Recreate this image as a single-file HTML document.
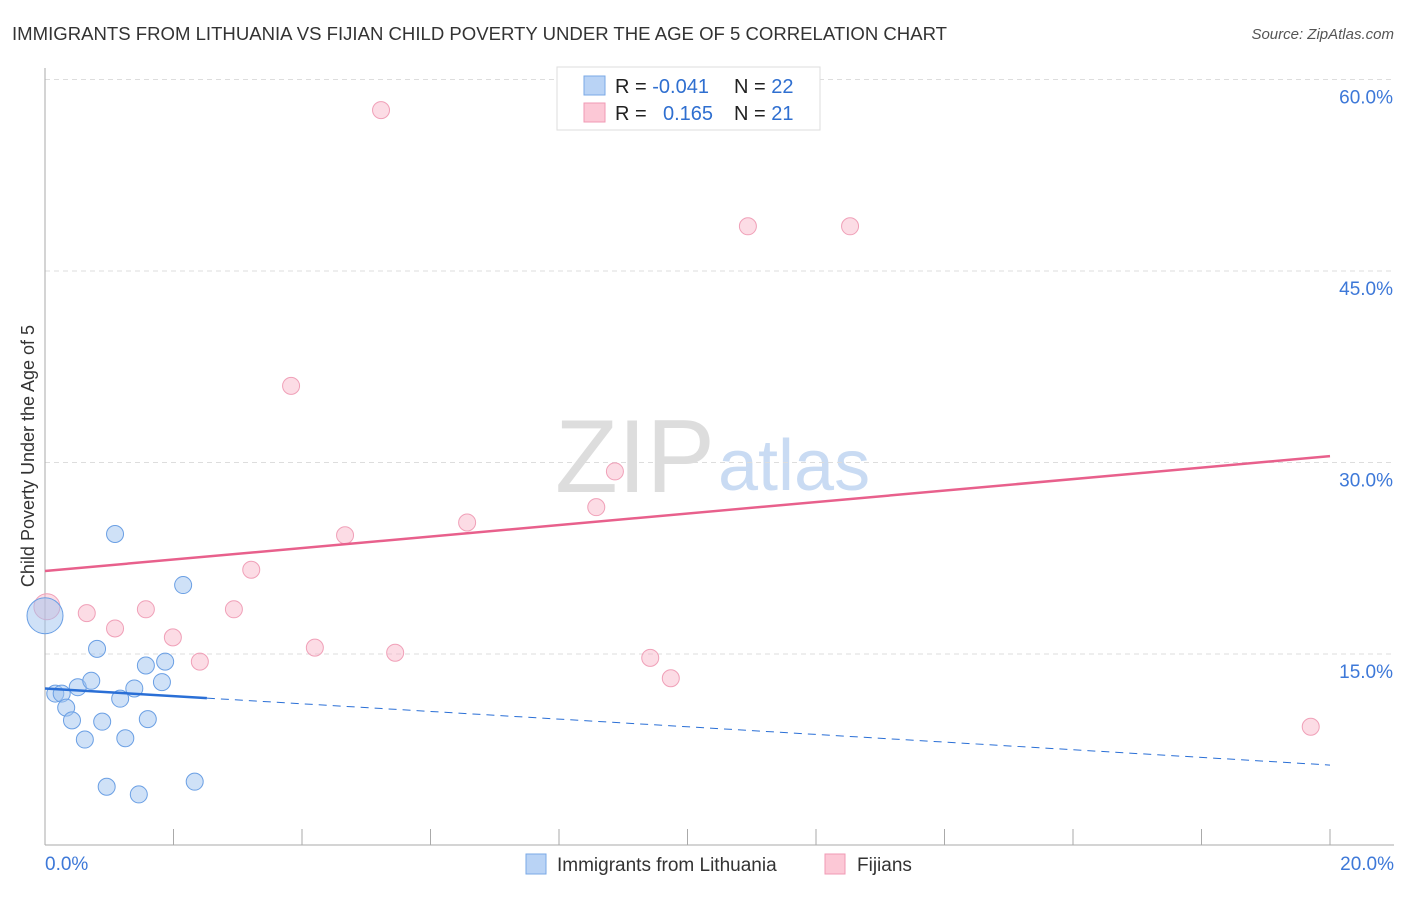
<!DOCTYPE html>
<html><head><meta charset="utf-8"><style>
body{margin:0;background:#fff;font-family:"Liberation Sans",sans-serif}
svg text{font-family:"Liberation Sans",sans-serif}
</style></head><body>
<svg id="c" width="1406" height="892" xmlns="http://www.w3.org/2000/svg">
<text x="12" y="40" font-size="18" fill="#333" textLength="935" lengthAdjust="spacingAndGlyphs">IMMIGRANTS FROM LITHUANIA VS FIJIAN CHILD POVERTY UNDER THE AGE OF 5 CORRELATION CHART</text>
<text x="1394" y="39" font-size="15" fill="#555" font-style="italic" text-anchor="end">Source: ZipAtlas.com</text>
<text x="555" y="492" font-size="104" fill="#ddd" font-family="Liberation Serif" textLength="160" lengthAdjust="spacingAndGlyphs">ZIP</text>
<text x="718" y="490" font-size="72" fill="#c9dbf3">atlas</text>
<text transform="translate(34,456) rotate(-90)" font-size="18" fill="#333" text-anchor="middle">Child Poverty Under the Age of 5</text>
<g id="grid"></g><g id="marks"></g>
<g>
<rect x="557" y="67" width="263" height="63" fill="#fff" stroke="#ddd"/>
<rect x="584" y="76" width="21" height="19" fill="#b9d3f5" stroke="#7aa8e6"/>
<rect x="584" y="103" width="21" height="19" fill="#fcc8d6" stroke="#f09ab4"/>
<text x="615" y="93" font-size="20" fill="#222">R = <tspan fill="#2f6fd0">-0.041</tspan></text>
<text x="734" y="93" font-size="20" fill="#222">N = <tspan fill="#2f6fd0">22</tspan></text>
<text x="615" y="120" font-size="20" fill="#222">R = </text><text x="663" y="120" font-size="20" fill="#2f6fd0">0.165</text>
<text x="734" y="120" font-size="20" fill="#222">N = <tspan fill="#2f6fd0"> 21</tspan></text>
</g>
<g>
<rect x="526" y="854" width="20" height="20" fill="#b9d3f5" stroke="#7aa8e6"/>
<text x="557" y="871" font-size="19" fill="#333">Immigrants from Lithuania</text>
<rect x="825" y="854" width="20" height="20" fill="#fcc8d6" stroke="#f09ab4"/>
<text x="857" y="871" font-size="19" fill="#333">Fijians</text>
</g>
</svg>
<script>
const blueX=[1.09,2.15,0,0.81,1.57,1.87,0.16,0.26,0.51,0.72,1.39,1.17,1.82,0.33,0.42,0.89,1.60,0.62,1.25,0.96,1.46,2.33];
const blueY=[24.4,20.4,18.0,15.4,14.1,14.4,11.9,11.9,12.4,12.9,12.3,11.5,12.8,10.8,9.8,9.7,9.9,8.3,8.4,4.6,4.0,5.0];
const pinkX=[5.23,10.94,12.53,3.83,8.87,6.57,8.58,4.67,3.21,0.03,0.65,1.57,2.94,1.09,1.99,2.41,4.20,5.45,9.42,9.74,19.70];
const pinkY=[57.6,48.5,48.5,36.0,29.3,25.3,26.5,24.3,21.6,18.7,18.2,18.5,18.5,17.0,16.3,14.4,15.5,15.1,14.7,13.1,9.3];
const blueTrend=[12.3,-0.30];
const pinkTrend=[21.5,0.45];
const yTicks=[15,30,45,60];
const xTicks=[0,2,4,6,8,10,12,14,16,18,20];
const NS="http://www.w3.org/2000/svg";
const sx=v=>45+v*64.25, sy=v=>845.5-v*12.767;
function mk(t,a,p){const e=document.createElementNS(NS,t);for(const k in a)e.setAttribute(k,a[k]);p.appendChild(e);return e;}
const g=document.getElementById('grid'), m=document.getElementById('marks');
yTicks.forEach(v=>{
 const l=mk('line',{x1:45,x2:1394,y1:sy(v),y2:sy(v),stroke:'#ddd','stroke-dasharray':'5,4'},g);
 
 
 const t=mk('text',{x:1393,y:sy(v)+24,'font-size':19,fill:'#3d78d8','text-anchor':'end'},g);
 t.textContent=v.toFixed(1)+'%';
 
 
});
const ax=mk('line',{x1:45,x2:45,y1:68,y2:845,stroke:'#aaa'},g);


const bx=mk('line',{x1:45,x2:1394,y1:845,y2:845,stroke:'#aaa'},g);


xTicks.forEach(v=>{
 const l=mk('line',{x1:sx(v),x2:sx(v),y1:829,y2:845,stroke:'#aaa'},g);
 
 
});
[[0,'start',45],[20,'end',1394]].forEach(([v,a,x])=>{
 const t=mk('text',{x:x,y:870,'font-size':19,fill:'#3d78d8','text-anchor':a},g);
 t.textContent=v.toFixed(1)+'%';
 
 
});
pinkX.forEach((x,i)=>{
 const c=mk('circle',{cx:sx(x),cy:sy(pinkY[i]),r:i==9?13:8.5,fill:'rgba(249,178,198,0.45)',stroke:'#f0a0b8','stroke-width':1},m);
 
 
});
blueX.forEach((x,i)=>{
 const c=mk('circle',{cx:sx(x),cy:sy(blueY[i]),r:i==2?18:8.5,fill:'rgba(160,196,240,0.5)',stroke:'#6a9fe4','stroke-width':1},m);
 
 
});
const pl=mk('line',{x1:sx(0),y1:sy(pinkTrend[0]),x2:sx(20),y2:sy(pinkTrend[0]+pinkTrend[1]*20),stroke:'#e8608c','stroke-width':2.5},m);


const bxe=2.52;
const bl=mk('line',{x1:sx(0),y1:sy(blueTrend[0]),x2:sx(bxe),y2:sy(blueTrend[0]+blueTrend[1]*bxe),stroke:'#2a6fd6','stroke-width':2.5},m);


const bd=mk('line',{x1:sx(bxe),y1:sy(blueTrend[0]+blueTrend[1]*bxe),x2:sx(20),y2:sy(blueTrend[0]+blueTrend[1]*20),stroke:'#2a6fd6','stroke-width':1,'stroke-dasharray':'8,6'},m);


</script>
</body></html>
